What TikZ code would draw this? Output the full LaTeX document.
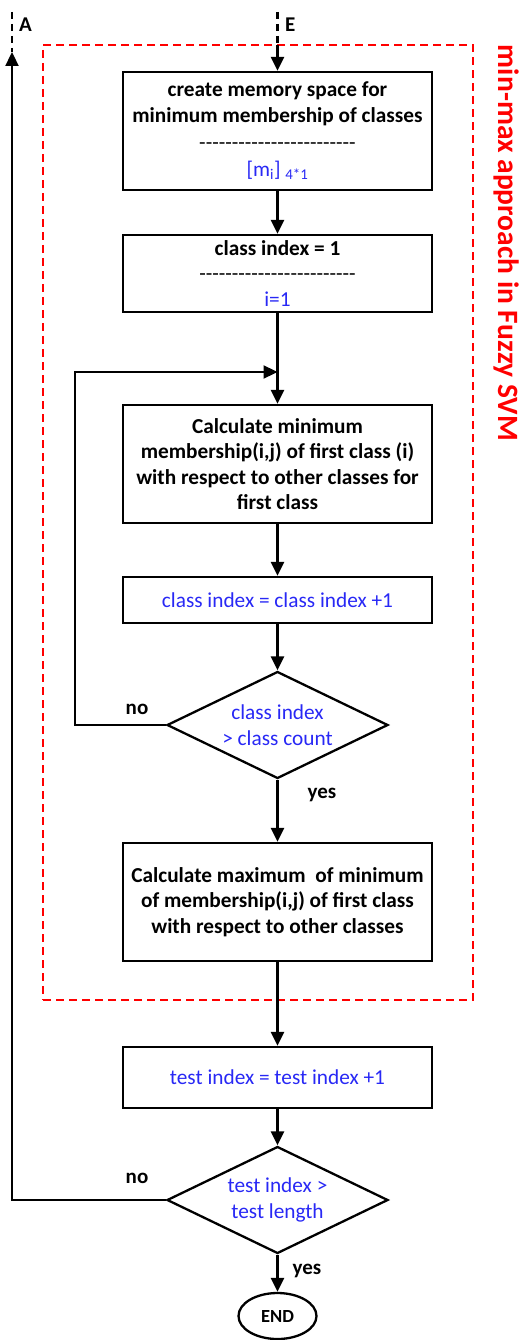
\documentclass[tikz,border=0pt]{standalone}
\usepackage{fontspec}
\setmainfont{Carlito}
\usetikzlibrary{shapes.geometric,arrows.meta}
\definecolor{flowblue}{RGB}{40,40,245}
\definecolor{groupred}{RGB}{255,0,0}
% a row of separate hyphens (kerns stop the TeX dash ligatures)
\newcommand\hyphrow{-\kern0pt-\kern0pt-\kern0pt-\kern0pt-\kern0pt-\kern0pt-\kern0pt-\kern0pt-\kern0pt-\kern0pt-\kern0pt-\kern0pt-\kern0pt-\kern0pt-\kern0pt-\kern0pt-\kern0pt-\kern0pt-\kern0pt-\kern0pt-\kern0pt-\kern0pt-\kern0pt-\kern0pt}
\tikzset{
  box/.style={draw, line width=2.3pt, minimum width=309pt, align=center,
    inner sep=0pt, font=\bfseries\fontsize{21.3}{25.5}\selectfont},
  bluebox/.style={box, text=flowblue, font=\mdseries\fontsize{21.3}{25.5}\selectfont},
  decision/.style={draw, diamond, line width=2.3pt, aspect=2.07,
    minimum width=221pt, minimum height=107pt, inner sep=0pt, align=center,
    text=flowblue, font=\fontsize{21.3}{25.5}\selectfont},
  terminal/.style={draw, ellipse, line width=2.3pt, minimum width=78pt,
    minimum height=46pt, inner sep=0pt, font=\bfseries\fontsize{18.5}{20}\selectfont},
  arr/.style={line width=2.3pt, -{Triangle[width=13pt,length=14pt]}},
  offpage/.style={line width=2.3pt, dash pattern=on 7pt off 5pt},
  lbl/.style={inner sep=0pt, font=\bfseries\fontsize{21}{24}\selectfont},
  groupframe/.style={draw=groupred, line width=2.4pt, dash pattern=on 8pt off 5pt},
}
\begin{document}
\begin{tikzpicture}[x=1pt,y=-1pt]
\useasboundingbox (0,0) rectangle (524,1340);

% dashed frame around the min-max block
\node[groupframe, minimum width=430pt, minimum height=955pt, inner sep=0pt]
  (frame) at (258,522.5) {};
\node[rotate=-90, text=groupred, inner sep=0pt,
  font=\bfseries\fontsize{29.5}{32}\selectfont] (framelbl) at (507,243)
  {min-max approach in Fuzzy SVM};

% process steps
\node[box, minimum height=118pt] (b1) at (277.5,131)
  {create memory space for\\minimum membership of classes\\[1.5pt]
   {\mdseries\hyphrow}\\[1.5pt]
   {\mdseries\color{flowblue}[m\textsubscript{i}] \textsubscript{4*1}}};
\node[box, minimum height=77pt] (b2) at (277.5,273.5)
  {class index = 1\\{\mdseries\hyphrow}\\{\mdseries\color{flowblue}i=1}};
\node[box, minimum height=118pt] (b3) at (277.5,464)
  {Calculate minimum\\membership(i,j) of first class (i)\\
   with respect to other classes for\\first class};
\node[bluebox, minimum height=46pt] (b4) at (277.5,600)
  {class index = class index +1};
\node[decision] (d1) at (277.5,725) {class index\\> class count};
\node[box, minimum height=118pt] (b5) at (277.5,902)
  {Calculate maximum\ \ of minimum\\of membership(i,j) of first class\\
   with respect to other classes};
\node[bluebox, minimum height=61pt] (b6) at (277.5,1077.5)
  {test index = test index +1};
\node[decision] (d2) at (277.5,1200) {test index >\\test length};
\node[terminal] (end) at (277.5,1316) {END};

% off-page connectors
\coordinate (Etop) at (277.5,12);
\coordinate (Ebreak) at (277.5,45);
\coordinate (Atop) at (12,12);
\coordinate (Abreak) at (12,52);
\node[lbl, anchor=west] (Elbl) at (285,25) {E};
\node[lbl, anchor=west] (Albl) at (19,25) {A};
\draw[offpage] (Etop) -- (Ebreak);
\draw[offpage] (Atop) -- (Abreak);
\draw[arr] (Ebreak) -- (b1);

% main flow
\coordinate (j1) at (277.5,372);
\coordinate (lp1) at (75,725);
\coordinate (lp2) at (12,1200);
\draw[arr] (b1) -- (b2);
\draw[arr] (b2) -- (b3);
\draw[arr] (b3) -- (b4);
\draw[arr] (b4) -- (d1);
\draw[arr] (d1) -- (b5);
\draw[arr] (b5) -- (b6);
\draw[arr] (b6) -- (d2);
\draw[arr] (d2) -- (end);

% loop-backs
\draw[arr] (d1.west) -- (lp1) |- (j1);
\draw[arr] (d2.west) -- (lp2) -- (Abreak);

% branch labels
\node[lbl] (no1) at (137,709) {no};
\node[lbl] (yes1) at (322,795) {yes};
\node[lbl] (no2) at (137,1178) {no};
\node[lbl] (yes2) at (307,1271) {yes};
\end{tikzpicture}
\end{document}
